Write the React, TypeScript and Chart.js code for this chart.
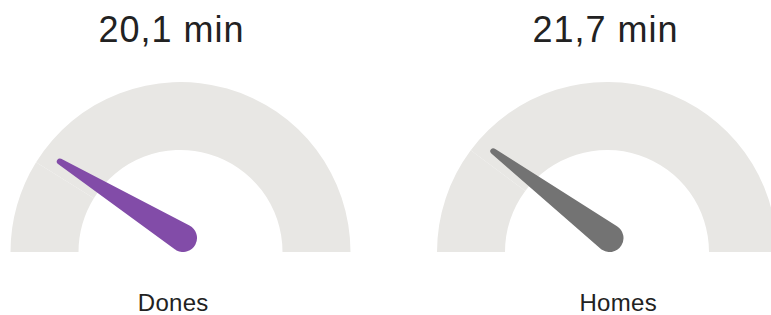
import React, { useEffect, useRef } from "react";
import { Chart, registerables } from "chart.js";

Chart.register(...registerables);

// ---- data ----
const categories = ["Dones", "Homes"];
const values = [20.1, 21.7];
const valueLabels = ["20,1 min", "21,7 min"];
const needleColors = ["#824ca8", "#737373"];
const GAUGE_MIN = 9.7;
const GAUGE_MAX = 68.5;
const TRACK_COLOR = "#e8e7e4";

const needlePlugin = {
  id: "needle",
  afterDatasetsDraw(chart: any) {
    const opts = chart.options.plugins.needle;
    const meta = chart.getDatasetMeta(0);
    const arc = meta.data[0];
    if (!arc) return;
    const { x, y } = arc.getProps(["x", "y"], true);
    const ctx = chart.ctx;
    const f = Math.max(0, Math.min(1, (opts.value - GAUGE_MIN) / (GAUGE_MAX - GAUGE_MIN)));
    const theta = Math.PI + f * Math.PI;
    const r1 = 14;
    const r2 = 3;
    const len = 145;
    const c1x = x + 2.5;
    const c1y = y - r1;
    const c2x = c1x + Math.cos(theta) * len;
    const c2y = c1y + Math.sin(theta) * len;
    const a = Math.acos((r1 - r2) / len);
    ctx.save();
    ctx.fillStyle = opts.color;
    ctx.beginPath();
    ctx.arc(c1x, c1y, r1, theta + a, theta + 2 * Math.PI - a);
    ctx.arc(c2x, c2y, r2, theta - a, theta + a);
    ctx.closePath();
    ctx.fill();
    ctx.restore();
  },
};

function Gauge({ index, left, top, width, height }: any) {
  const ref = useRef<HTMLCanvasElement | null>(null);
  useEffect(() => {
    if (!ref.current) return;
    const v = values[index];
    const chart = new Chart(ref.current, {
      type: "doughnut",
      data: {
        labels: [categories[index], ""],
        datasets: [
          {
            data: [v - GAUGE_MIN, GAUGE_MAX - v],
            backgroundColor: [TRACK_COLOR, TRACK_COLOR],
            borderWidth: 0,
          },
        ],
      },
      options: {
        responsive: false,
        maintainAspectRatio: false,
        devicePixelRatio: 1,
        animation: false,
        rotation: -90,
        circumference: 180,
        cutout: "60%",
        layout: { padding: 0 },
        plugins: {
          legend: { display: false },
          tooltip: { enabled: false },
          needle: { value: v, color: needleColors[index] },
        } as any,
        events: [],
      },
      plugins: [needlePlugin],
    });
    return () => chart.destroy();
  }, [index]);
  return (
    <canvas
      ref={ref}
      width={width}
      height={height}
      style={{ position: "absolute", left, top, width, height }}
    />
  );
}

const titleStyle = (cx: number): React.CSSProperties => ({
  position: "absolute",
  left: cx + 0.5,
  top: 11.8,
  transform: "translateX(-50%)",
  fontFamily: "'Liberation Sans', Arial, sans-serif",
  fontSize: 36,
  letterSpacing: 1,
  lineHeight: 1,
  color: "#222222",
  whiteSpace: "nowrap",
});

const labelStyle = (cx: number): React.CSSProperties => ({
  position: "absolute",
  left: cx + 0.2,
  top: 291.4,
  transform: "translateX(-50%)",
  fontFamily: "'Liberation Sans', Arial, sans-serif",
  fontSize: 24,
  letterSpacing: 0.3,
  lineHeight: 1,
  color: "#222222",
  whiteSpace: "nowrap",
});

export default function App() {
  return (
    <div
      style={{
        position: "fixed",
        left: 0,
        top: 0,
        width: 771,
        height: 315,
        overflow: "hidden",
        background: "#ffffff",
      }}
    >
      <Gauge index={0} left={10} top={82} width={341} height={170} />
      <Gauge index={1} left={437} top={82} width={340} height={170} />
      <div style={titleStyle(171)}>{valueLabels[0]}</div>
      <div style={titleStyle(605)}>{valueLabels[1]}</div>
      <div style={labelStyle(173)}>{categories[0]}</div>
      <div style={labelStyle(618)}>{categories[1]}</div>
    </div>
  );
}
